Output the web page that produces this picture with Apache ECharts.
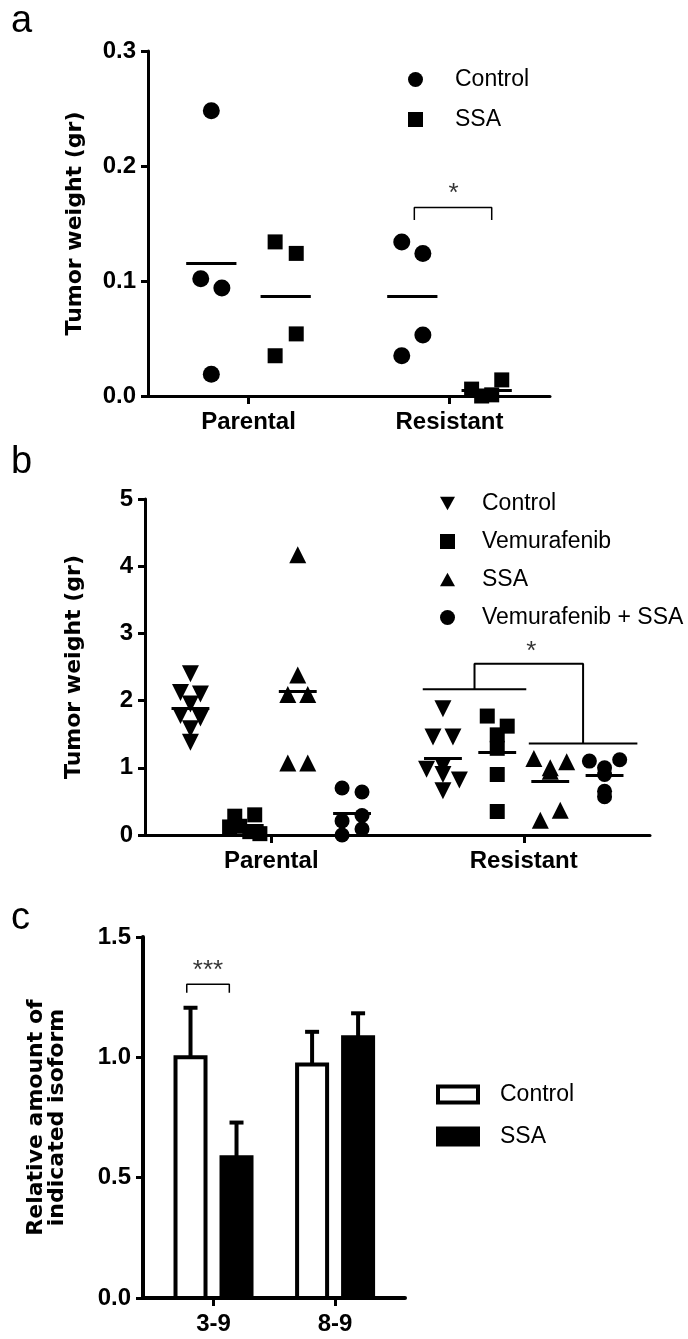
<!DOCTYPE html>
<html>
<head>
<meta charset="utf-8">
<script src="https://cdn.jsdelivr.net/npm/echarts@6/dist/echarts.min.js"></script>
<style>
  html, body { margin: 0; padding: 0; background: #fff; }
  #chart { width: 688px; height: 1339px; }
</style>
</head>
<body>
<div id="chart"></div>
<script>
// ---- panel a: tumor weight, control vs SSA ----
const groupsA = ['Parental', 'Resistant'];
const controlA = [[0.248, 0.102, 0.094, 0.019], [0.134, 0.124, 0.035, 0.053]];
const ssaA = [[0.134, 0.124, 0.035, 0.054], [0.006, 0.000, 0.001, 0.014]];

// ---- panel b: tumor weight, four treatments ----
const groupsB = ['Parental', 'Resistant'];
const controlB = [[2.40, 2.12, 2.10, 1.95, 1.78, 1.74, 1.58, 1.38], [1.88, 1.46, 1.46, 1.02, 0.98, 0.90, 0.82, 0.66]];
const vemB = [[0.28, 0.30, 0.12, 0.13, 0.05, 0.02], [1.77, 1.62, 1.49, 1.29, 0.90, 0.35]];
const ssaB = [[4.17, 2.38, 2.09, 2.09, 1.07, 1.07], [1.14, 1.00, 1.09, 0.95, 0.22, 0.37]];
const comboB = [[0.70, 0.64, 0.21, 0.29, 0.00, 0.09], [1.10, 1.00, 1.12, 0.90, 0.57, 0.65]];

// ---- panel c: relative isoform amount ----
const isoforms = ['3-9', '8-9'];
const controlC = [1.00, 0.97];
const controlErrC = [0.206, 0.136];
const ssaC = [0.585, 1.083];
const ssaErrC = [0.144, 0.100];

const FONT = 'Liberation Sans';
const posA = [1, 3];
const posB = [1, 3];
const posC = [1, 2];

// spread points that share a value bin side by side (scatter dot plot layout)
function swarm(groups, centers, offset, bin, step, maxSpan) {
  const out = [];
  groups.forEach(function (values, g) {
    const rows = {};
    values.forEach(function (v, i) {
      const k = Math.floor(v / bin + 1e-9);
      (rows[k] = rows[k] || []).push(i);
    });
    Object.keys(rows).forEach(function (k) {
      const idx = rows[k];
      const n = idx.length;
      const s = n > 1 ? Math.min(step, maxSpan / (n - 1)) : 0;
      idx.forEach(function (i, j) {
        out.push([centers[g] + offset + (j - (n - 1) / 2) * s, values[i]]);
      });
    });
  });
  return out;
}

function mean(arr) {
  return arr.reduce(function (a, b) { return a + b; }, 0) / arr.length;
}

function meanLines(groups, centers, offset, half, width) {
  return {
    silent: true,
    symbol: ['none', 'none'],
    label: { show: false },
    lineStyle: { color: '#000', width: width, type: 'solid', opacity: 1 },
    data: groups.map(function (values, g) {
      const m = mean(values);
      return [{ coord: [centers[g] + offset - half, m] }, { coord: [centers[g] + offset + half, m] }];
    })
  };
}

function dotSeries(name, groups, centers, offset, gi, symbol, size, rotate, bin, step, span, half) {
  return {
    name: name,
    type: 'scatter',
    xAxisIndex: gi,
    yAxisIndex: gi,
    symbol: symbol,
    symbolSize: size,
    symbolRotate: rotate,
    clip: false,
    itemStyle: { color: '#000', opacity: 1 },
    data: swarm(groups, centers, offset, bin, step, span),
    markLine: meanLines(groups, centers, offset, half, 3)
  };
}

function bracket(points, gi, width) {
  return {
    type: 'line',
    xAxisIndex: gi,
    yAxisIndex: gi,
    data: points,
    showSymbol: false,
    silent: true,
    lineStyle: { color: '#000', width: width },
    z: 5
  };
}

function star(x, y, text, gi) {
  return {
    type: 'scatter',
    xAxisIndex: gi,
    yAxisIndex: gi,
    symbolSize: 1,
    silent: true,
    itemStyle: { color: 'rgba(0,0,0,0)' },
    label: { show: true, position: 'inside', formatter: text, color: '#000', fontFamily: FONT, fontSize: 26 },
    data: [[x, y]]
  };
}

function barSeries(name, values, errs, fill, offsetPx) {
  return {
    name: name,
    type: 'custom',
    xAxisIndex: 2,
    yAxisIndex: 2,
    data: values.map(function (v, i) { return [posC[i], v]; }),
    encode: { x: 0, y: 1 },
    renderItem: function (params, api) {
      const x = api.value(0);
      const v = api.value(1);
      const e = errs[params.dataIndex];
      const base = api.coord([x, 0]);
      const top = api.coord([x, v]);
      const errTop = api.coord([x, v + e]);
      const cx = base[0] + offsetPx;
      return {
        type: 'group',
        children: [
          { type: 'line', shape: { x1: cx, y1: top[1], x2: cx, y2: errTop[1] }, style: { stroke: '#000', lineWidth: 4 } },
          { type: 'line', shape: { x1: cx - 7, y1: errTop[1], x2: cx + 7, y2: errTop[1] }, style: { stroke: '#000', lineWidth: 4 } },
          { type: 'rect', shape: { x: cx - 15, y: top[1], width: 30, height: base[1] - top[1] }, style: { fill: fill, stroke: '#000', lineWidth: 4 } }
        ]
      };
    }
  };
}

function xAxisCfg(gi, min, max, pos, names, lineW) {
  return {
    type: 'value',
    gridIndex: gi,
    min: min,
    max: max,
    splitLine: { show: false },
    axisLine: { show: true, onZero: false, lineStyle: { color: '#000', width: lineW } },
    axisTick: { show: true, customValues: pos, length: 8, lineStyle: { color: '#000', width: 3 } },
    axisLabel: {
      customValues: pos,
      margin: 14,
      color: '#000',
      fontFamily: FONT,
      fontWeight: 'bold',
      fontSize: 24,
      formatter: function (v) { return names[pos.indexOf(v)]; }
    }
  };
}

function yAxisCfg(gi, max, interval, digits, name, nameGap, lineW) {
  return {
    type: 'value',
    gridIndex: gi,
    min: 0,
    max: max,
    interval: interval,
    splitLine: { show: false },
    axisLine: { show: true, lineStyle: { color: '#000', width: lineW } },
    axisTick: { show: true, length: 7, lineStyle: { color: '#000', width: 3 } },
    axisLabel: {
      margin: 12,
      color: '#000',
      fontFamily: FONT,
      fontWeight: 'bold',
      fontSize: 24,
      formatter: function (v) { return v.toFixed(digits); }
    },
    name: name,
    nameLocation: 'middle',
    nameGap: nameGap,
    nameTextStyle: { color: '#000', fontFamily: 'DejaVu Sans', fontWeight: 'bold', fontSize: 22, lineHeight: 21 }
  };
}

const legendText = { color: '#000', fontFamily: FONT, fontSize: 23 };
const black = { color: '#000', borderWidth: 0, opacity: 1 };

const chart = echarts.init(document.getElementById('chart'), null, { renderer: 'canvas' });

chart.setOption({
  backgroundColor: '#fff',
  animation: false,
  title: [
    { text: 'a', left: 11, top: 3, padding: 0, textStyle: { fontFamily: FONT, fontWeight: 'normal', fontSize: 38, color: '#000' } },
    { text: 'b', left: 11, top: 444, padding: 0, textStyle: { fontFamily: FONT, fontWeight: 'normal', fontSize: 38, color: '#000' } },
    { text: 'c', left: 11, top: 900, padding: 0, textStyle: { fontFamily: FONT, fontWeight: 'normal', fontSize: 38, color: '#000' } }
  ],
  grid: [
    { left: 148, top: 51, width: 402, height: 345, outerBoundsMode: 'none' },
    { left: 145, top: 499, width: 505, height: 336, outerBoundsMode: 'none' },
    { left: 143, top: 937, width: 262, height: 361, outerBoundsMode: 'none' }
  ],
  xAxis: [
    xAxisCfg(0, 0, 4, posA, groupsA, 3),
    xAxisCfg(1, 0, 4, posB, groupsB, 3),
    xAxisCfg(2, 0.42, 2.575, posC, isoforms, 4)
  ],
  yAxis: [
    yAxisCfg(0, 0.3, 0.1, 1, 'Tumor weight (gr)', 62, 3),
    yAxisCfg(1, 5, 1, 0, 'Tumor weight (gr)', 60, 3),
    yAxisCfg(2, 1.5, 0.5, 1, 'Relative amount of\nindicated isoform', 75, 4)
  ],
  legend: [
    {
      left: 403, top: 63, orient: 'vertical', itemGap: 17, itemWidth: 15, itemHeight: 15, selectedMode: false,
      textStyle: Object.assign({}, legendText, { padding: [0, 0, 0, 27] }),
      data: [
        { name: 'Control', icon: 'circle', itemStyle: black },
        { name: 'SSA', icon: 'rect', itemStyle: black }
      ]
    },
    {
      left: 435, top: 487, orient: 'vertical', itemGap: 15, itemWidth: 15, itemHeight: 15, selectedMode: false,
      textStyle: Object.assign({}, legendText, { padding: [0, 0, 0, 22] }),
      data: [
        { name: 'Control', icon: 'path://M0,0L20,0L10,18Z', itemStyle: black },
        { name: 'Vemurafenib', icon: 'rect', itemStyle: black },
        { name: 'SSA', icon: 'path://M10,0L20,18L0,18Z', itemStyle: black },
        { name: 'Vemurafenib + SSA', icon: 'circle', itemStyle: black }
      ]
    },
    {
      left: 431, top: 1078, orient: 'vertical', itemGap: 19, itemWidth: 40, itemHeight: 16, selectedMode: false,
      textStyle: Object.assign({}, legendText, { padding: [0, 0, 0, 17] }),
      data: [
        { name: 'Control', icon: 'rect', itemStyle: { color: '#fff', borderColor: '#000', borderWidth: 4, opacity: 1 } },
        { name: 'SSA', icon: 'rect', itemStyle: { color: '#000', borderColor: '#000', borderWidth: 4, opacity: 1 } }
      ]
    }
  ],
  series: [
    // panel a
    dotSeries('Control', controlA, posA, -0.37, 0, 'circle', 17, 0, 0.03, 0.21, 0.3, 0.25),
    dotSeries('SSA', ssaA, posA, 0.37, 0, 'rect', 15, 0, 0.03, 0.21, 0.3, 0.25),
    bracket([[2.65, 0.153], [2.65, 0.164], [3.42, 0.164], [3.42, 0.153]], 0, 1.5),
    star(3.04, 0.176, '*', 0),
    // panel b
    dotSeries('Control', controlB, posB, -0.64, 1, 'triangle', 17, 180, 0.2, 0.158, 0.26, 0.15),
    dotSeries('Vemurafenib', vemB, posB, -0.21, 1, 'rect', 15, 0, 0.2, 0.158, 0.24, 0.15),
    dotSeries('SSA', ssaB, posB, 0.21, 1, 'triangle', 17, 0, 0.2, 0.158, 0.26, 0.15),
    dotSeries('Vemurafenib + SSA', comboB, posB, 0.64, 1, 'circle', 15, 0, 0.2, 0.158, 0.24, 0.15),
    bracket([[2.2, 2.17], [3.02, 2.17]], 1, 2),
    bracket([[3.04, 1.36], [3.9, 1.36]], 1, 2),
    bracket([[2.61, 2.17], [2.61, 2.55], [3.47, 2.55], [3.47, 1.36]], 1, 2),
    star(3.06, 2.72, '*', 1),
    // panel c
    barSeries('Control', controlC, controlErrC, '#fff', -23),
    barSeries('SSA', ssaC, ssaErrC, '#000', 23),
    bracket([[0.78, 1.268], [0.78, 1.304], [1.13, 1.304], [1.13, 1.268]], 2, 1.5),
    star(0.955, 1.36, '***', 2)
  ]
});
</script>
</body>
</html>
